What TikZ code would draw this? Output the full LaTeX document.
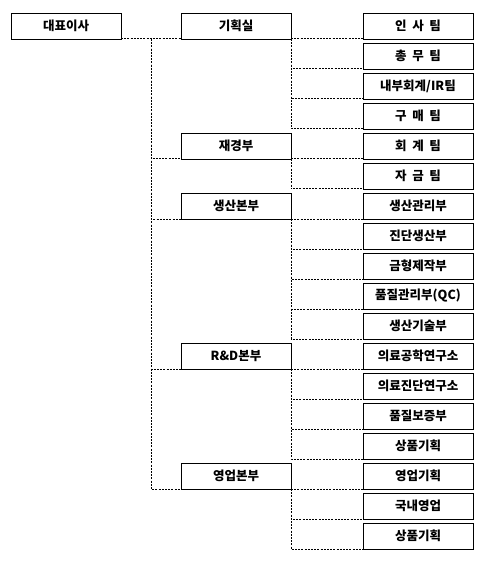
\documentclass[tikz,border=0pt]{standalone}
\usepackage{fontspec}
\setmainfont{Noto Sans CJK KR}[WordSpace=2]
\usetikzlibrary{calc}
\tikzset{
  box/.style={draw,line width=0.9pt,minimum width=110pt,minimum height=26pt,inner sep=0pt,outer sep=0pt,font=\fontsize{12.5}{14}\selectfont\bfseries},
  dotline/.style={line width=1pt,dash pattern=on 2pt off 1.2pt}
}
\begin{document}
\begin{tikzpicture}[x=1pt,y=1pt]
\useasboundingbox (0,0) rectangle (488,-561);
% top
\node[box] (D0) at (66,-26) {대표이사};
% middle column
\node[box] (B1) at (236,-26) {기획실};
\node[box] (B2) at (236,-146) {재경부};
\node[box] (B3) at (236,-206) {생산본부};
\node[box] (B4) at (236,-356) {R\&D본부};
\node[box] (B5) at (236,-476) {영업본부};
% right column
\node[box] (T1) at (418,-26) {인 사 팀};
\node[box] (T2) at (418,-56) {총 무 팀};
\node[box] (T3) at (418,-86) {내부회계/IR팀};
\node[box] (T4) at (418,-116) {구 매 팀};
\node[box] (T5) at (418,-146) {회 계 팀};
\node[box] (T6) at (418,-176) {자 금 팀};
\node[box] (T7) at (418,-206) {생산관리부};
\node[box] (T8) at (418,-236) {진단생산부};
\node[box] (T9) at (418,-266) {금형제작부};
\node[box] (T10) at (418,-296) {품질관리부(QC)};
\node[box] (T11) at (418,-326) {생산기술부};
\node[box] (T12) at (418,-356) {의료공학연구소};
\node[box] (T13) at (418,-386) {의료진단연구소};
\node[box] (T14) at (418,-416) {품질보증부};
\node[box] (T15) at (418,-446) {상품기획};
\node[box] (T16) at (418,-476) {영업기획};
\node[box] (T17) at (418,-506) {국내영업};
\node[box] (T18) at (418,-536) {상품기획};
% connectors
\coordinate (K0) at ($(D0.south east)!0.5!(B1.south west)$);
\draw[dotline] (D0.south east) -- (B1.south west);
\draw[dotline] (K0) |- (B2.south west);
\draw[dotline] (K0) |- (B3.south west);
\draw[dotline] (K0) |- (B4.south west);
\draw[dotline] (K0) |- (B5.south west);
\draw[dotline] (B1.south east) -- (T1.south west);
\draw[dotline] (B1.south east) |- (T2.south west);
\draw[dotline] (B1.south east) |- (T3.south west);
\draw[dotline] (B1.south east) |- (T4.south west);
\draw[dotline] (B2.south east) -- (T5.south west);
\draw[dotline] (B2.south east) |- (T6.south west);
\draw[dotline] (B3.south east) -- (T7.south west);
\draw[dotline] (B3.south east) |- (T8.south west);
\draw[dotline] (B3.south east) |- (T9.south west);
\draw[dotline] (B3.south east) |- (T10.south west);
\draw[dotline] (B3.south east) |- (T11.south west);
\draw[dotline] (B4.south east) -- (T12.south west);
\draw[dotline] (B4.south east) |- (T13.south west);
\draw[dotline] (B4.south east) |- (T14.south west);
\draw[dotline] (B4.south east) |- (T15.south west);
\draw[dotline] (B5.south east) -- (T16.south west);
\draw[dotline] (B5.south east) |- (T17.south west);
\draw[dotline] (B5.south east) |- (T18.south west);
\end{tikzpicture}
\end{document}
